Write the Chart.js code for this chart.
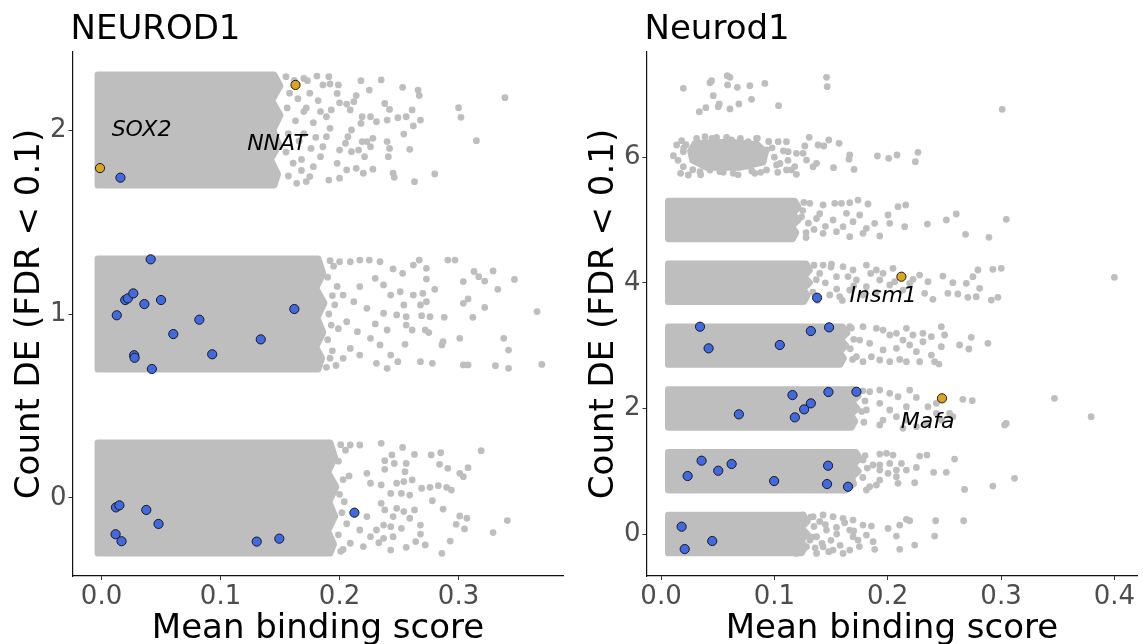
<!DOCTYPE html>
<html>
<head>
<meta charset="utf-8">
<script src="https://cdn.jsdelivr.net/npm/chart.js@4.4.1/dist/chart.umd.min.js"></script>
<style>
  html, body { margin: 0; padding: 0; background: #fff; width: 1143px; height: 644px; overflow: hidden; }
  canvas { position: absolute; top: 0; }
  #human { left: 0; }
  #mouse { left: 580px; }
</style>
</head>
<body>
<canvas id="human" width="580" height="644"></canvas>
<canvas id="mouse" width="563" height="644"></canvas>
<script>
// ---------- tick labels ----------
const humanXTicks = [0, 0.1, 0.2, 0.3];
const humanYTicks = [0, 1, 2];
const mouseXTicks = [0, 0.1, 0.2, 0.3, 0.4];
const mouseYTicks = [0, 2, 4, 6];

// ---------- NEUROD1 (human): dense cores of each count band, as [score, count] outlines ----------
const humanCore2 = [[-0.003,2.30],[0.145,2.30],[0.150,2.24],[0.143,2.16],[0.150,2.08],[0.144,2.00],[0.149,1.92],[0.142,1.84],[0.148,1.76],[0.145,1.70],[-0.003,1.70]];
const humanCore1 = [[-0.003,1.30],[0.182,1.30],[0.186,1.22],[0.180,1.14],[0.187,1.06],[0.181,0.98],[0.186,0.90],[0.180,0.82],[0.185,0.76],[0.182,0.70],[-0.003,0.70]];
const humanCore0 = [[-0.003,0.30],[0.192,0.30],[0.196,0.22],[0.190,0.14],[0.197,0.06],[0.191,-0.02],[0.196,-0.10],[0.190,-0.18],[0.195,-0.25],[0.192,-0.30],[-0.003,-0.30]];

// NEUROD1: background genes outside the dense cores
const humanGrey2 = [[0.181,2.293],[0.191,2.290],[0.173,2.268],[0.186,2.245],[0.192,2.250],[0.199,2.245],[0.218,2.268],[0.235,2.272],[0.225,2.217],[0.253,2.232],[0.266,2.217],[0.267,2.187],[0.339,2.176],[0.214,2.187],[0.212,2.154],[0.206,2.141],[0.238,2.144],[0.242,2.112],[0.261,2.109],[0.300,2.121],[0.302,2.069],[0.198,2.199],[0.200,2.148],[0.193,2.109],[0.184,2.100],[0.189,2.072],[0.209,2.109],[0.219,2.072],[0.226,2.072],[0.231,2.045],[0.240,2.054],[0.249,2.067],[0.256,2.072],[0.268,2.054],[0.262,2.022],[0.218,2.036],[0.210,2.000],[0.207,1.964],[0.205,1.928],[0.219,1.937],[0.223,1.937],[0.228,1.955],[0.240,1.937],[0.254,1.978],[0.315,1.942],[0.200,1.891],[0.210,1.882],[0.216,1.891],[0.226,1.909],[0.242,1.900],[0.259,1.895],[0.221,1.855],[0.241,1.855],[0.198,1.819],[0.206,1.783],[0.214,1.792],[0.220,1.765],[0.228,1.787],[0.245,1.765],[0.246,1.743],[0.263,1.719],[0.280,1.761],[0.191,1.728],[0.200,1.738],[0.184,1.855],[0.178,1.801],[0.175,1.747],[0.192,2.009],[0.189,1.964],[0.186,1.909],[0.170,2.280],[0.175,2.200],[0.172,2.120],[0.178,2.040],[0.170,1.980],[0.176,1.900],[0.168,1.840],[0.172,1.720],[0.182,2.160],[0.180,1.960],
  [0.155,2.290],[0.162,2.270],[0.158,2.200],[0.165,2.170],[0.156,2.120],[0.163,2.050],[0.157,1.980],[0.166,1.940],[0.155,1.880],[0.161,1.820],[0.157,1.750],[0.164,1.710],[0.170,2.100],[0.168,1.780]];
const humanGrey1 = [[0.200,1.284],[0.209,1.284],[0.217,1.293],[0.225,1.293],[0.234,1.284],[0.245,1.245],[0.253,1.221],[0.262,1.266],[0.267,1.293],[0.273,1.248],[0.291,1.293],[0.297,1.293],[0.273,1.190],[0.280,1.134],[0.304,1.176],[0.313,1.231],[0.317,1.203],[0.329,1.234],[0.322,1.179],[0.347,1.188],[0.333,1.134],[0.217,1.149],[0.230,1.194],[0.237,1.158],[0.243,1.103],[0.251,1.121],[0.262,1.103],[0.270,1.112],[0.254,1.049],[0.268,1.049],[0.273,1.067],[0.304,1.058],[0.308,1.082],[0.322,1.036],[0.366,1.013],[0.203,1.103],[0.212,1.067],[0.223,1.031],[0.237,1.004],[0.248,0.995],[0.256,0.985],[0.269,0.991],[0.276,0.985],[0.288,0.982],[0.312,0.982],[0.230,0.946],[0.240,0.913],[0.256,0.940],[0.261,0.913],[0.272,0.913],[0.275,0.899],[0.301,0.868],[0.287,0.850],[0.286,0.832],[0.338,0.868],[0.342,0.804],[0.255,0.835],[0.206,0.958],[0.215,0.904],[0.226,0.868],[0.234,0.832],[0.243,0.777],[0.249,0.741],[0.268,0.741],[0.278,0.732],[0.304,0.723],[0.308,0.723],[0.331,0.719],[0.342,0.705],[0.370,0.726],[0.231,0.732],[0.217,0.777],[0.209,0.813],[0.203,0.759],[0.240,0.705],[0.195,1.260],[0.198,1.150],[0.196,1.050],[0.199,0.920],[0.194,0.800],[0.197,0.720],
  [0.192,1.290],[0.190,1.200],[0.194,1.100],[0.191,1.000],[0.193,0.940],[0.190,0.860],[0.192,0.760],[0.189,0.710]];
const humanGrey0 = [[0.209,0.288],[0.217,0.288],[0.235,0.297],[0.253,0.275],[0.263,0.237],[0.244,0.234],[0.238,0.203],[0.246,0.188],[0.256,0.188],[0.255,0.143],[0.277,0.234],[0.285,0.246],[0.284,0.183],[0.291,0.161],[0.308,0.165],[0.301,0.134],[0.304,0.116],[0.319,0.257],[0.238,0.156],[0.223,0.134],[0.226,0.080],[0.235,0.071],[0.243,0.025],[0.248,0.080],[0.254,0.089],[0.261,0.098],[0.252,0.025],[0.259,0.016],[0.269,0.053],[0.276,0.058],[0.283,0.067],[0.290,0.058],[0.294,0.043],[0.278,-0.015],[0.287,-0.060],[0.235,-0.029],[0.238,-0.065],[0.248,-0.056],[0.254,-0.074],[0.263,-0.065],[0.259,-0.110],[0.268,-0.147],[0.245,-0.101],[0.237,-0.147],[0.243,-0.156],[0.252,-0.165],[0.301,-0.098],[0.307,-0.110],[0.298,-0.143],[0.305,-0.168],[0.341,-0.123],[0.329,-0.188],[0.223,-0.101],[0.217,-0.174],[0.226,-0.210],[0.231,-0.174],[0.237,-0.219],[0.245,-0.210],[0.268,-0.196],[0.264,-0.237],[0.272,-0.255],[0.256,-0.268],[0.293,-0.234],[0.286,-0.301],[0.243,-0.283],[0.233,-0.243],[0.209,-0.246],[0.220,-0.264],[0.205,0.260],[0.208,0.120],[0.204,-0.020],[0.206,-0.140],[0.203,-0.280],
  [0.201,0.290],[0.199,0.200],[0.203,0.100],[0.200,0.020],[0.202,-0.080],[0.199,-0.200],[0.201,-0.290]];

// NEUROD1: highlighted targets
const humanBlue = [[0.0159,1.741],[0.0413,1.297],[0.0128,0.993],[0.0199,1.076],[0.0221,1.085],[0.0267,1.112],[0.0360,1.054],[0.0500,1.076],[0.1620,1.027],[0.0822,0.969],[0.0603,0.891],[0.1338,0.862],[0.0930,0.781],[0.0274,0.776],[0.0278,0.762],[0.0423,0.701],[0.0121,-0.051],[0.0150,-0.040],[0.0376,-0.065],[0.0479,-0.141],[0.0118,-0.197],[0.0168,-0.235],[0.1304,-0.237],[0.1494,-0.221],[0.2125,-0.080]];
const humanGold = [[-0.0013,1.793],[0.1630,2.245]];
const humanNotes = [{ text: 'SOX2', x: 0.0336, y: 2.0 }, { text: 'NNAT', x: 0.1475, y: 1.924 }];

// ---------- Neurod1 (mouse) ----------
const mouseCore6 = [[0.030,6.22],[0.060,6.24],[0.085,6.20],[0.092,6.08],[0.090,5.92],[0.070,5.84],[0.040,5.84],[0.028,5.95],[0.026,6.10]];
const mouseCore5 = [[0.0065,5.30],[0.118,5.30],[0.121,5.20],[0.116,5.10],[0.121,5.00],[0.115,4.90],[0.119,4.80],[0.116,4.70],[0.0065,4.70]];
const mouseCore4 = [[0.0065,4.30],[0.128,4.30],[0.131,4.20],[0.126,4.10],[0.131,4.00],[0.125,3.90],[0.129,3.80],[0.126,3.70],[0.0065,3.70]];
const mouseCore3 = [[0.0065,3.30],[0.160,3.30],[0.164,3.20],[0.158,3.10],[0.163,3.00],[0.157,2.90],[0.161,2.80],[0.158,2.70],[0.0065,2.70]];
const mouseCore2 = [[0.0065,2.30],[0.170,2.30],[0.174,2.20],[0.168,2.10],[0.173,2.00],[0.167,1.90],[0.171,1.80],[0.168,1.70],[0.0065,1.70]];
const mouseCore1 = [[0.0065,1.30],[0.172,1.30],[0.175,1.20],[0.169,1.10],[0.174,1.00],[0.168,0.90],[0.170,0.80],[0.163,0.70],[0.0065,0.70]];
const mouseCore0 = [[0.0065,0.30],[0.125,0.30],[0.129,0.20],[0.123,0.10],[0.129,0.00],[0.123,-0.10],[0.127,-0.20],[0.124,-0.30],[0.0065,-0.30]];

const mouseGrey76 = [[0.0197,7.097],[0.0432,7.187],[0.0446,7.218],[0.0584,7.298],[0.0608,7.272],[0.0587,7.150],[0.0673,7.112],[0.0784,7.139],[0.0916,7.174],[0.1460,7.272],[0.1466,7.123],[0.0461,6.980],[0.0338,6.725],[0.0396,6.789],[0.0505,6.805],[0.0514,6.847],[0.0608,6.768],[0.0687,6.847],[0.0799,6.921],[0.1037,6.820],[0.3010,6.762],
  [0.0109,6.024],[0.0138,6.194],[0.0182,6.263],[0.0197,6.088],[0.0173,5.743],[0.0241,5.717],[0.0197,5.849],[0.0314,6.300],[0.0388,6.327],[0.0490,6.316],[0.0579,6.316],[0.0623,6.274],[0.0769,6.247],[0.0843,6.300],[0.0931,6.115],[0.1034,6.247],[0.1107,6.247],[0.1122,6.088],[0.1195,6.062],[0.1151,5.796],[0.1195,5.727],[0.1107,5.796],[0.1019,5.876],[0.0931,5.796],[0.0828,5.743],[0.0755,5.860],[0.0637,5.743],[0.0520,5.770],[0.0432,5.796],[0.0344,5.770],[0.1269,6.178],[0.1307,6.316],[0.1254,6.062],[0.1284,5.955],[0.1342,5.849],[0.1372,5.903],[0.1386,6.194],[0.1436,6.178],[0.1480,6.274],[0.1571,6.221],[0.1522,5.833],[0.1665,6.035],[0.1659,5.968],[0.1703,5.806],[0.1909,6.019],[0.2009,5.982],[0.2082,6.035],[0.2267,6.078],[0.2244,5.929],
  [0.022,6.200],[0.028,5.800],[0.045,6.300],[0.055,5.760],[0.070,6.300],[0.080,5.780],[0.095,6.250],[0.100,6.000],[0.105,5.900],[0.098,6.150],[0.108,6.100],[0.112,5.950],[0.118,5.850],[0.088,5.760],[0.015,5.950],[0.020,6.150],[0.035,5.720],[0.068,5.720],[0.085,6.300],[0.103,5.760]];
const mouseGrey54 = [[0.1313,5.265],[0.1430,5.239],[0.1533,5.265],[0.1592,5.265],[0.1665,5.276],[0.1738,5.318],[0.1826,5.255],[0.2091,5.212],[0.2159,5.239],[0.2003,5.080],[0.2018,4.947],[0.1885,4.947],[0.1812,4.867],[0.1782,4.788],[0.1930,4.745],[0.2150,4.894],[0.2350,4.936],[0.2517,5.000],[0.2605,5.096],[0.2687,4.772],[0.2893,4.724],[0.3046,5.011],[0.1694,4.973],[0.1606,4.894],[0.1548,4.814],[0.1430,4.788],[0.1665,4.734],[0.1753,5.080],[0.1636,5.106],[0.1518,5.000],[0.1372,5.024],[0.1250,5.150],[0.1300,4.950],[0.1350,4.850],[0.1280,4.720],[0.1400,5.100],[0.1450,4.900],[0.126,5.280],[0.124,5.050],[0.128,4.800],
  [0.1430,4.283],[0.1504,4.299],[0.1606,4.257],[0.1694,4.204],[0.1812,4.283],[0.1900,4.204],[0.1959,4.151],[0.2047,4.231],[0.2223,4.056],[0.2282,4.124],[0.2355,4.018],[0.2487,4.108],[0.2575,4.002],[0.2693,3.992],[0.2796,4.204],[0.2752,4.097],[0.2928,4.215],[0.3002,4.231],[0.4000,4.087],[0.2326,3.833],[0.2399,3.737],[0.2531,3.833],[0.2619,3.822],[0.2707,3.769],[0.2781,3.779],[0.2914,3.726],[0.2972,3.769],[0.2135,3.885],[0.2018,3.965],[0.1930,4.045],[0.1812,3.938],[0.1724,4.045],[0.1665,3.885],[0.1577,3.779],[0.1489,3.806],[0.2194,3.992],[0.2062,4.018],[0.1548,4.097],[0.1782,3.806],[0.2811,3.912],[0.1400,4.150],[0.1450,4.000],[0.1550,3.900],[0.1500,4.250],[0.1650,4.100],[0.1700,3.950],[0.1850,4.150],[0.1600,3.720],[0.1900,3.850],[0.135,4.280],[0.137,4.050],[0.134,3.850],[0.138,3.720]];
const mouseGrey32 = [[0.1665,3.301],[0.1782,3.301],[0.1900,3.275],[0.1959,3.248],[0.2018,3.169],[0.2077,3.196],[0.2165,3.275],[0.2223,3.169],[0.2311,3.196],[0.2385,3.142],[0.2473,3.301],[0.2502,3.169],[0.2737,3.132],[0.2884,3.036],[0.2634,3.010],[0.2716,2.946],[0.2473,2.983],[0.2385,2.850],[0.2414,2.744],[0.2452,2.707],[0.2282,2.744],[0.2165,2.744],[0.2106,2.781],[0.2018,2.744],[0.1930,2.771],[0.1856,2.823],[0.1782,2.744],[0.1724,2.823],[0.1959,2.930],[0.2077,2.957],[0.2194,3.010],[0.2253,2.903],[0.2311,3.062],[0.2135,3.089],[0.1841,3.036],[0.1753,3.089],[0.168,3.280],[0.170,3.100],[0.167,2.950],[0.169,2.780],
  [0.1841,2.266],[0.1930,2.293],[0.2018,2.240],[0.2091,2.186],[0.2194,2.293],[0.2253,2.176],[0.2355,2.027],[0.2429,1.922],[0.2546,1.922],[0.2663,2.145],[0.2746,2.123],[0.3471,2.161],[0.3795,1.868],[0.3031,1.736],[0.3046,1.762],[0.2575,1.868],[0.2473,1.815],[0.2341,1.762],[0.2253,1.709],[0.2165,1.815],[0.2077,1.868],[0.1959,1.815],[0.1930,1.736],[0.2018,1.975],[0.2165,2.027],[0.1930,2.081],[0.1812,1.975],[0.2135,1.683],[0.2429,2.081],[0.178,2.280],[0.180,2.120],[0.177,1.950],[0.179,1.780]];
const mouseGrey10 = [[0.1930,1.274],[0.1989,1.285],[0.2047,1.258],[0.2018,1.125],[0.2121,1.125],[0.1930,1.099],[0.1930,1.019],[0.2077,1.019],[0.2165,1.019],[0.2253,1.061],[0.2282,1.242],[0.2346,1.258],[0.2590,1.194],[0.2405,0.982],[0.2517,0.982],[0.2003,0.966],[0.1930,0.860],[0.1841,0.753],[0.1812,0.701],[0.1900,0.780],[0.2077,0.913],[0.2091,0.807],[0.2238,0.817],[0.2678,0.711],[0.2928,0.764],[0.3119,0.887],[0.1871,1.099],[0.1782,1.178],[0.180,1.250],[0.182,1.050],[0.178,0.900],
  [0.1254,0.303],[0.1342,0.276],[0.1430,0.303],[0.1518,0.276],[0.1606,0.250],[0.1694,0.223],[0.1782,0.143],[0.1856,0.127],[0.1665,0.064],[0.1548,0.106],[0.1460,0.064],[0.1372,-0.043],[0.1313,-0.096],[0.1430,-0.202],[0.1518,-0.255],[0.1665,-0.255],[0.1738,-0.096],[0.1694,-0.043],[0.1812,-0.016],[0.1871,-0.122],[0.1885,-0.244],[0.2003,0.090],[0.2077,-0.032],[0.2106,0.143],[0.2165,0.234],[0.2194,0.212],[0.2106,-0.244],[0.2238,-0.175],[0.2423,0.212],[0.2414,-0.032],[0.2670,0.212],[0.1254,0.064],[0.1284,-0.202],[0.1195,-0.308],[0.1372,-0.308],[0.1606,-0.308],
  [0.132,0.270],[0.135,0.120],[0.133,-0.050],[0.136,-0.220],[0.140,0.200],[0.145,0.150],[0.150,-0.100],[0.155,0.000],[0.158,-0.180],[0.148,-0.280],[0.142,-0.150],[0.162,0.180],[0.170,0.050],[0.175,-0.200]];

const mouseBlue = [[0.1377,3.763],[0.0344,3.301],[0.0420,2.957],[0.1048,3.010],[0.1322,3.232],[0.1483,3.291],[0.1160,2.213],[0.1477,2.261],[0.1724,2.266],[0.1322,2.081],[0.1263,1.985],[0.1181,1.858],[0.0687,1.906],[0.0358,1.168],[0.0235,0.924],[0.0505,1.008],[0.0623,1.115],[0.0998,0.844],[0.1474,1.088],[0.1465,0.796],[0.1650,0.753],[0.0182,0.117],[0.0209,-0.239],[0.0452,-0.111]];
const mouseGold = [[0.2121,4.097],[0.2479,2.161]];
const mouseNotes = [{ text: 'Insm1', x: 0.196, y: 3.79 }, { text: 'Mafa', x: 0.2352, y: 1.78 }];

// ---------- drawing ----------
const GREY = '#BEBEBE';
const DOT = 3.4;
const FONT = '"DejaVu Sans", "Liberation Sans", sans-serif';

const toXY = arr => arr.map(([x, y]) => ({ x, y }));

function panelPlugin(p) {
  return {
    id: 'panel_' + p.key,
    beforeDatasetsDraw(chart) {
      const { ctx, chartArea: a, scales: { x, y } } = chart;
      ctx.save();
      ctx.beginPath();
      ctx.rect(a.left, a.top, a.right - a.left, a.bottom - a.top);
      ctx.clip();
      ctx.fillStyle = GREY;
      ctx.strokeStyle = GREY;
      ctx.lineWidth = 2 * DOT;
      ctx.lineJoin = 'round';
      p.cores.forEach(poly => {
        ctx.beginPath();
        poly.forEach(([vx, vy], i) => {
          const px = x.getPixelForValue(vx), py = y.getPixelForValue(vy);
          if (i) ctx.lineTo(px, py); else ctx.moveTo(px, py);
        });
        ctx.closePath();
        ctx.fill();
        ctx.stroke();
      });
      ctx.restore();
    },
    afterDatasetsDraw(chart) {
      const { ctx, scales: { x, y } } = chart;
      ctx.save();
      ctx.font = 'italic 22px ' + FONT;
      ctx.fillStyle = '#000';
      ctx.textAlign = 'center';
      ctx.textBaseline = 'middle';
      p.notes.forEach(n => ctx.fillText(n.text, x.getPixelForValue(n.x), y.getPixelForValue(n.y)));
      ctx.restore();
    },
    afterDraw(chart) {
      const { ctx, chartArea: a } = chart;
      ctx.save();
      ctx.fillStyle = '#000';
      ctx.font = '34px ' + FONT;
      ctx.textBaseline = 'alphabetic';
      ctx.textAlign = 'left';
      ctx.fillText(p.title, a.left - 2, 39);
      ctx.textAlign = 'center';
      ctx.fillText('Mean binding score', (a.left + a.right) / 2, 638);
      ctx.translate(a.left - p.yTitleGap, (a.top + a.bottom) / 2);
      ctx.rotate(-Math.PI / 2);
      ctx.fillText('Count DE (FDR < 0.1)', 0, 0);
      ctx.restore();
    }
  };
}

function axis(min, max, ticks, fmt, fit) {
  return {
    type: 'linear', min, max,
    afterBuildTicks: s => { s.ticks = ticks.map(v => ({ value: v })); },
    afterFit: fit,
    ticks: { autoSkip: false, maxRotation: 0, padding: 2, color: '#4D4D4D',
             font: { family: FONT, size: 26 }, callback: fmt },
    grid: { display: true, drawOnChartArea: false, drawTicks: true, tickLength: 4, color: '#333', lineWidth: 1 },
    border: { display: true, color: '#111', width: 1.2 }
  };
}

function buildPanel(p) {
  const datasets = [];
  p.greys.forEach(g => datasets.push({ data: toXY(g), pointRadius: DOT, pointHoverRadius: DOT,
    backgroundColor: GREY, borderWidth: 0, order: 3 }));
  datasets.push({ data: toXY(p.blue), pointRadius: 4.6, pointHoverRadius: 4.6,
    backgroundColor: '#4169E1', borderColor: '#1A1A1A', borderWidth: 1, order: 2 });
  datasets.push({ data: toXY(p.gold), pointRadius: 4.6, pointHoverRadius: 4.6,
    backgroundColor: '#DAA520', borderColor: '#1A1A1A', borderWidth: 1, order: 1 });

  new Chart(document.getElementById(p.key), {
    type: 'scatter',
    data: { datasets },
    options: {
      responsive: false,
      animation: false,
      events: [],
      layout: { padding: { top: 52, right: p.padRight, bottom: 0, left: 0 } },
      plugins: { legend: { display: false }, tooltip: { enabled: false } },
      scales: {
        x: axis(p.xMin, p.xMax, p.xTicks, v => Number(v).toFixed(1), s => { s.height = 68; }),
        y: axis(p.yMin, p.yMax, p.yTicks, v => String(v), s => { s.width = p.yWidth; })
      }
    },
    plugins: [panelPlugin(p)]
  });
}

buildPanel({
  key: 'human', title: 'NEUROD1',
  xMin: -0.0244, xMax: 0.3882, yMin: -0.424, yMax: 2.424,
  xTicks: humanXTicks, yTicks: humanYTicks,
  yWidth: 72.5, padRight: 16.5, yTitleGap: 33.5,
  cores: [humanCore2, humanCore1, humanCore0],
  greys: [humanGrey2, humanGrey1, humanGrey0],
  blue: humanBlue, gold: humanGold, notes: humanNotes
});

buildPanel({
  key: 'mouse', title: 'Neurod1',
  xMin: -0.0128, xMax: 0.4203, yMin: -0.668, yMax: 7.675,
  xTicks: mouseXTicks, yTicks: mouseYTicks,
  yWidth: 66.5, padRight: 5, yTitleGap: 33.5,
  cores: [mouseCore6, mouseCore5, mouseCore4, mouseCore3, mouseCore2, mouseCore1, mouseCore0],
  greys: [mouseGrey76, mouseGrey54, mouseGrey32, mouseGrey10],
  blue: mouseBlue, gold: mouseGold, notes: mouseNotes
});
</script>
</body>
</html>
